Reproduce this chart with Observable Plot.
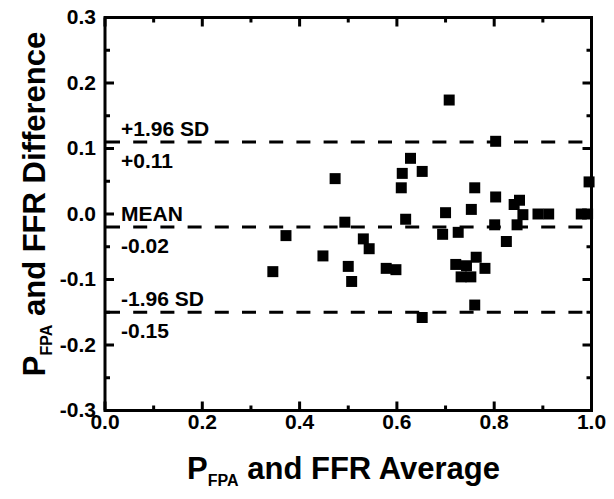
<!DOCTYPE html>
<html>
<head>
<meta charset="utf-8">
<script src="https://cdn.jsdelivr.net/npm/d3@7"></script>
<script src="https://cdn.jsdelivr.net/npm/@observablehq/plot@0.6"></script>
<style>
  html, body { margin: 0; padding: 0; background: #fff; color: #000; }
</style>
</head>
<body>
<div id="chart"></div>
<script>
// Bland–Altman points: average (x) and difference (y)
const avgX = [
  0.345, 0.372, 0.448, 0.473, 0.493, 0.500, 0.507, 0.531, 0.543, 0.578,
  0.598, 0.609, 0.611, 0.618, 0.628, 0.652, 0.652, 0.694, 0.700, 0.7075,
  0.721, 0.726, 0.732, 0.743, 0.752, 0.753, 0.760, 0.760, 0.763, 0.781,
  0.801, 0.803, 0.803, 0.825, 0.841, 0.847, 0.852, 0.859, 0.890, 0.912,
  0.979, 0.992, 0.995
];
const diffY = [
  -0.088, -0.033, -0.064, 0.054, -0.0125, -0.080, -0.103, -0.038, -0.053, -0.083,
  -0.085, 0.040, 0.062, -0.008, 0.085, 0.065, -0.158, -0.031, 0.002, 0.174,
  -0.077, -0.028, -0.096, -0.079, -0.096, 0.007, 0.040, -0.139, -0.066, -0.083,
  -0.0165, 0.111, 0.026, -0.042, 0.0145, -0.0165, 0.021, -0.001, 0.000, 0.000,
  0.000, 0.000, 0.049
];

// Limits of agreement
const limitValues = [0.11, -0.02, -0.15];
const limitNames = ["+1.96 SD", "MEAN", "-1.96 SD"];
const limitLabels = ["+0.11", "-0.02", "-0.15"];

// Ticks
const xMajor = [0, 0.2, 0.4, 0.6, 0.8, 1.0];
const xMinor = [0.1, 0.3, 0.5, 0.7, 0.9];
const yMajor = [-0.3, -0.2, -0.1, 0, 0.1, 0.2, 0.3];
const yMinor = [-0.25, -0.15, -0.05, 0.05, 0.15, 0.25];

(function () {
  const points = avgX.map((x, i) => ({x, y: diffY[i]}));

  const W = 614, H = 499;
  const mL = 104.5, mR = 23, mT = 17, mB = 89;
  const MAJ = 9, MIN = 5, TW = 3;

  const FONT = "'Liberation Sans', Arial, Helvetica, sans-serif";
  const fmt = d => d.toFixed(1);
  const txt = {fontSize: 21, fontWeight: "bold", fontFamily: FONT};

  const chart = Plot.plot({
    width: W,
    height: H,
    marginLeft: mL,
    marginRight: mR,
    marginTop: mT,
    marginBottom: mB,
    x: {domain: [0, 1]},
    y: {domain: [-0.3, 0.3]},
    marks: [
      Plot.axisX(xMajor, {anchor: "bottom", tickSize: 0, tickPadding: 4, tickFormat: fmt, label: null, ...txt}),
      Plot.axisY(yMajor, {anchor: "left", tickSize: 0, tickPadding: 9, tickFormat: fmt, label: null, ...txt}),
      Plot.ruleY(limitValues, {stroke: "black", strokeWidth: 3, strokeDasharray: "14,13.2", strokeDashoffset: -1.5}),
      Plot.text(limitValues, {frameAnchor: "left", y: d => d, text: (d, i) => limitNames[i], textAnchor: "start", lineAnchor: "bottom", dx: 16, dy: -6, fill: "black", ...txt}),
      Plot.text(limitValues, {frameAnchor: "left", y: d => d, text: (d, i) => limitLabels[i], textAnchor: "start", lineAnchor: "bottom", dx: 16, dy: 26, fill: "black", ...txt}),
      Plot.dot(points, {x: "x", y: "y", symbol: "square", r: 6.2, fill: "black", stroke: "none"}),
      Plot.frame({stroke: "black", strokeWidth: 3})
    ]
  });

  document.getElementById("chart").appendChild(chart);
  const svg = d3.select(chart);

  // Inward ticks on all four sides, placed with the plot's own scales
  try {
    const sx = chart.scale("x"), sy = chart.scale("y");
    const X = v => sx.apply(v) + 0.5;
    const Y = v => sy.apply(v) + 0.5;
    const edgeL = mL + 0.5, edgeR = W - mR + 0.5, edgeT = mT + 0.5, edgeB = H - mB + 0.5;
    const tg = svg.append("g").attr("aria-label", "inner ticks").attr("fill", "black");
    const xTicks = (vals, len) => {
      for (const v of vals) {
        tg.append("rect").attr("x", X(v) - TW / 2).attr("y", edgeB - len).attr("width", TW).attr("height", len);
        tg.append("rect").attr("x", X(v) - TW / 2).attr("y", edgeT).attr("width", TW).attr("height", len);
      }
    };
    const yTicks = (vals, len) => {
      for (const v of vals) {
        tg.append("rect").attr("x", edgeL).attr("y", Y(v) - TW / 2).attr("width", len).attr("height", TW);
        tg.append("rect").attr("x", edgeR - len).attr("y", Y(v) - TW / 2).attr("width", len).attr("height", TW);
      }
    };
    xTicks(xMajor, MAJ); xTicks(xMinor, MIN);
    yTicks(yMajor, MAJ); yTicks(yMinor, MIN);
  } catch (e) { console.error(e); }

  // Axis titles with subscripts
  const title = (sel, rest) => {
    sel.attr("font-family", FONT).attr("font-weight", "bold").attr("font-size", 31)
       .attr("fill", "black").attr("text-anchor", "middle");
    sel.append("tspan").text("P");
    sel.append("tspan").attr("font-size", 16).attr("dy", "0.42em").text("FPA");
    sel.append("tspan").attr("dy", "-0.22em").text(" " + rest);
  };

  title(svg.append("text").attr("x", 343.5).attr("y", 479), "and FFR Average");
  title(svg.append("text").attr("transform", "translate(45,204) rotate(-90)"), "and FFR Difference");
})();
</script>
</body>
</html>
